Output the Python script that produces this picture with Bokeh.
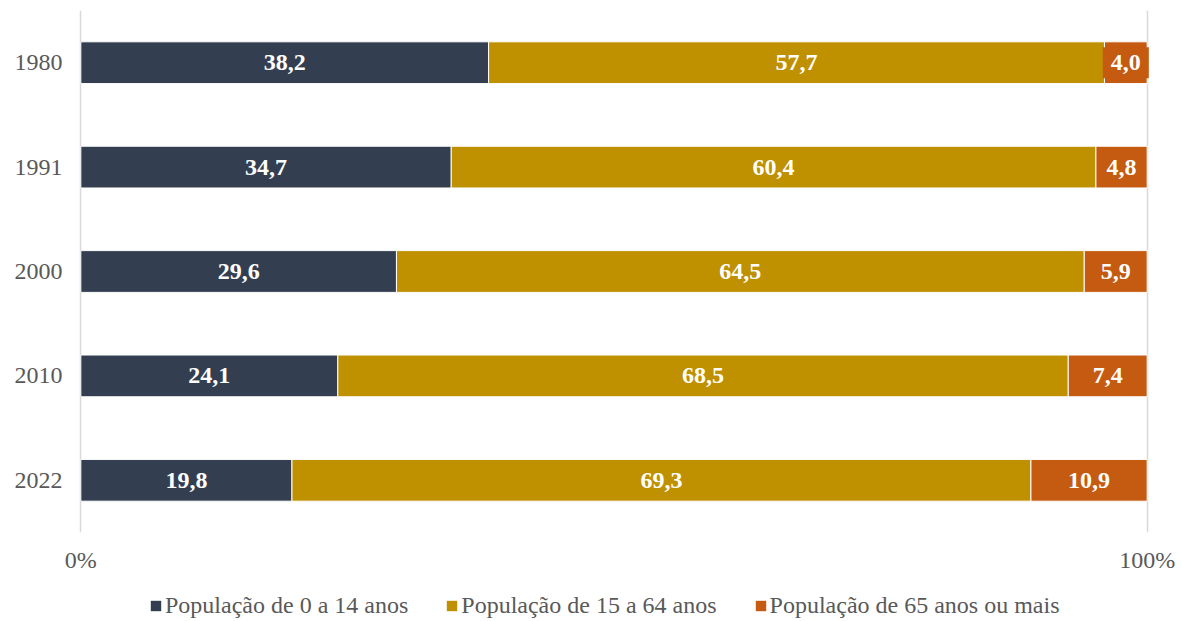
from bokeh.plotting import figure
from bokeh.layouts import column
from bokeh.models import ColumnDataSource, Range1d, FixedTicker, Legend, LegendItem
from bokeh.core.properties import value
from bokeh.embed import file_html
from bokeh.resources import INLINE

years = ["1980", "1991", "2000", "2010", "2022"]
pop_0_14 = [38.2, 34.7, 29.6, 24.1, 19.8]
pop_15_64 = [57.7, 60.4, 64.5, 68.5, 69.3]
pop_65_plus = [4.0, 4.8, 5.9, 7.4, 10.9]
series_names = ["População de 0 a 14 anos", "População de 15 a 64 anos", "População de 65 anos ou mais"]
colors = ["#333F50", "#BF9000", "#C55A11"]
x_ticks = [0, 100]
x_tick_labels = {0: "0%", 100: "100%"}

FONT = "Liberation Serif"
GREY = "#595959"

series = [pop_0_14, pop_15_64, pop_65_plus]
keys = ["s0", "s1", "s2"]
totals = [sum(v) for v in zip(*series)]
data = {"year": years}
left = [0.0] * len(years)
for k, vals in zip(keys, series):
    share = [v / t * 100 for v, t in zip(vals, totals)]
    data[k] = share
    data[k + "_c"] = [l + s / 2 for l, s in zip(left, share)]
    data[k + "_t"] = [f"{v:.1f}".replace(".", ",") for v in vals]
    left = [l + s for l, s in zip(left, share)]
src = ColumnDataSource(data)

p = figure(y_range=list(reversed(years)), x_range=Range1d(-0.5, 100.5),
           width=1182, height=580, output_backend="svg", toolbar_location=None,
           min_border_left=75, min_border_right=30, min_border_top=10, min_border_bottom=48,
           outline_line_color=None, background_fill_color="white")

rs = p.hbar_stack(keys, y="year", height=0.4, fill_color=colors, line_color="white",
                  line_width=1, source=src)

for i, k in enumerate(keys):
    kw = {}
    if i == 2:
        kw = dict(background_fill_color=colors[2], padding=8)
    p.text(x=k + "_c", y="year", text=k + "_t", source=src, text_align="center",
           text_baseline="middle", text_color="white", text_font=value(FONT),
           text_font_style="bold", text_font_size="24px", **kw)

p.ygrid.grid_line_color = None
p.xgrid.ticker = FixedTicker(ticks=x_ticks)
p.xgrid.grid_line_color = "#D9D9D9"
p.xgrid.grid_line_width = 1.5

p.xaxis.ticker = FixedTicker(ticks=x_ticks)
p.xaxis.major_label_overrides = x_tick_labels
for ax in (p.xaxis[0], p.yaxis[0]):
    ax.axis_line_color = None
    ax.major_tick_line_color = None
    ax.minor_tick_line_color = None
    ax.major_label_text_font = FONT
    ax.major_label_text_font_size = "24px"
    ax.major_label_text_color = GREY
p.xaxis.major_label_standoff = 8
p.yaxis.major_label_standoff = 7

# legend strip
p2 = figure(width=1182, height=40, x_range=Range1d(0, 1), y_range=Range1d(0, 1),
            output_backend="svg", toolbar_location=None, x_axis_location=None,
            y_axis_location=None, min_border=0, outline_line_color=None)
p2.grid.grid_line_color = None
items = []
for n, c in zip(series_names, colors):
    r = p2.quad(left=[0], right=[0], top=[0], bottom=[0], fill_color=c, line_color=None)
    items.append(LegendItem(label=n, renderers=[r]))
legend = Legend(items=items, orientation="horizontal", location=(74, 1),
                border_line_color=None, background_fill_alpha=0, glyph_width=13,
                glyph_height=13, label_standoff=3, spacing=37, label_text_font=FONT,
                label_text_font_size="24px", label_height=24, label_text_color=GREY,
                padding=0, margin=0)
p2.add_layout(legend, "center")

layout = column(p, p2, spacing=0)
open("out.html", "w").write(file_html(layout, INLINE))
